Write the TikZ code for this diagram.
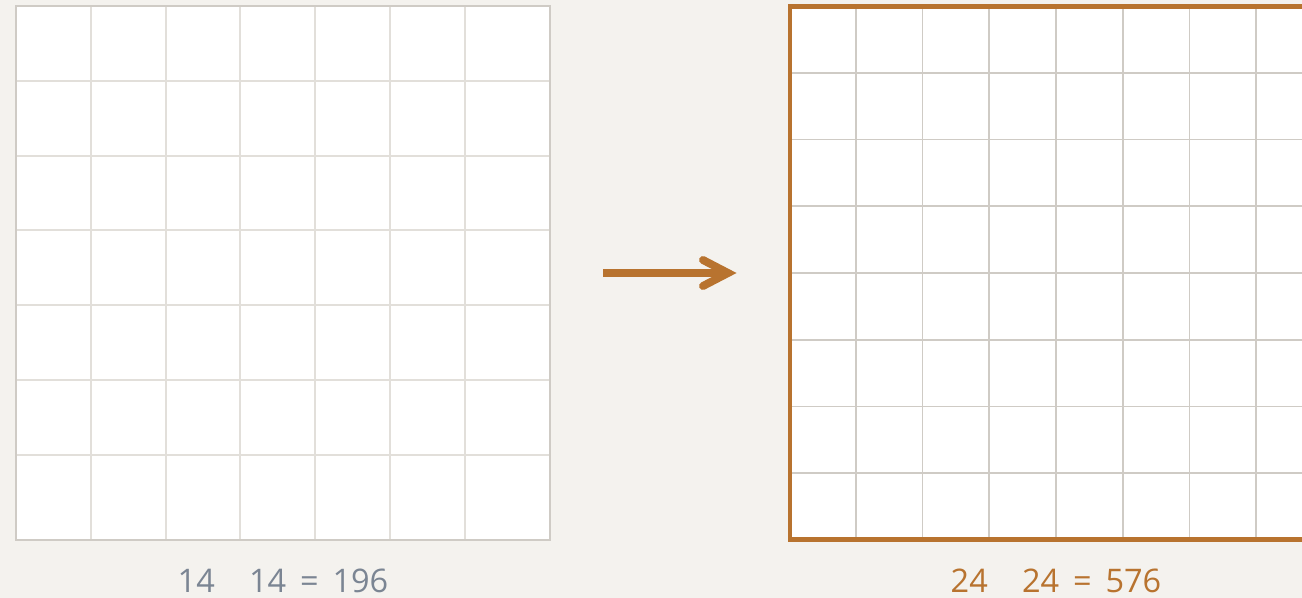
\documentclass[tikz,border=0pt]{standalone}
\usepackage{fontspec}
\setmainfont{Open Sans}
\usetikzlibrary{calc}
\definecolor{fondo}{HTML}{F4F2EE}
\definecolor{cobre}{HTML}{B8732F}
\definecolor{bordegris}{HTML}{CFCBC5}
\definecolor{lineagris}{HTML}{E2DFDA}
\definecolor{textogris}{HTML}{7B8593}
\tikzset{etiqueta/.style={font=\fontsize{18.5}{22}\selectfont,anchor=base}}

\begin{document}
\begin{tikzpicture}[x=0.02cm,y=-0.02cm,line width=1.1pt]
  \useasboundingbox[fill=fondo] (0,0) rectangle (1302,598);
  \clip (0,0) rectangle (1302,598);
  % cuadricula 7x7
  \fill[white] (16,6) rectangle (550,540);
  \foreach \k in {1,...,6} {
    \draw[lineagris] (16+74.8*\k,6)--(16+74.8*\k,540);
    \draw[lineagris] (16,6+74.8*\k)--(550,6+74.8*\k);
  }
  \draw[bordegris,line width=1.4pt] (16,6) rectangle (550,540);
  \node[etiqueta,textogris] (etiq14) at (283,592) {14\hspace{1.05em}14 \,=\, 196};
  % flecha
  \coordinate (flechaA) at (603,273);
  \coordinate (flechaB) at (728,273);
  \draw[cobre,line width=4.5pt] (flechaA)--($(flechaB)+(-4,0)$);
  \draw[cobre,line width=4.5pt,line cap=round] ($(flechaB)+(-25,-13)$)--(flechaB)--($(flechaB)+(-25,13)$);
  % cuadricula 8x8
  \fill[white] (790,6) rectangle (1323,540);
  \foreach \k in {1,...,7} {
    \draw[bordegris] (789+66.75*\k,6)--(789+66.75*\k,540);
    \draw[bordegris] (789,6+66.75*\k)--(1323,6+66.75*\k);
  }
  \draw[cobre,line width=2.8pt] (790,6.5) rectangle (1323,539.5);
  \node[etiqueta,cobre] (etiq24) at (1056,592) {24\hspace{1.05em}24 \,=\, 576};
\end{tikzpicture}
\end{document}
